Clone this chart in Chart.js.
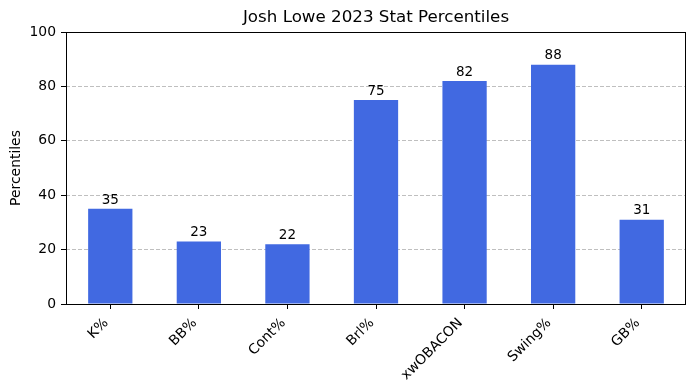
<!DOCTYPE html>
<html>
<head>
<meta charset="utf-8">
<script src="https://cdn.jsdelivr.net/npm/chart.js@4/dist/chart.umd.min.js"></script>
<style>
html,body{margin:0;padding:0;background:#fff;}
#wrap{width:695px;height:390px;position:relative;}
</style>
</head>
<body>
<div id="wrap"><canvas id="c" width="695" height="390"></canvas></div>
<script>
const categories = ["K%", "BB%", "Cont%", "Brl%", "xwOBACON", "Swing%", "GB%"];
const percentiles = [35, 23, 22, 75, 82, 88, 31];
const yTicks = [0, 20, 40, 60, 80, 100];

const FONT = "'DejaVu Sans', sans-serif";

const extras = {
  id: 'extras',
  afterDatasetsDraw(chart) {
    const ctx = chart.ctx;
    const meta = chart.getDatasetMeta(0);
    ctx.save();
    ctx.fillStyle = '#000';
    ctx.font = "13.5px " + FONT;
    ctx.textAlign = 'center';
    ctx.textBaseline = 'bottom';
    meta.data.forEach((bar, i) => {
      ctx.fillText(String(percentiles[i]), bar.x, bar.y - 2);
    });
    const a = chart.chartArea;
    ctx.strokeStyle = '#000';
    ctx.lineWidth = 1;
    ctx.strokeRect(Math.round(a.left) + 0.5, Math.round(a.top) + 0.5, Math.round(a.right - a.left) - 1, Math.round(a.bottom - a.top));
    ctx.font = "16.7px " + FONT;
    ctx.textBaseline = 'middle';
    ctx.fillText("Josh Lowe 2023 Stat Percentiles", (a.left + a.right) / 2, 18);
    ctx.restore();
  }
};

new Chart(document.getElementById('c'), {
  type: 'bar',
  data: {
    labels: categories,
    datasets: [{
      data: percentiles,
      backgroundColor: '#4169E1',
      borderWidth: 0,
      barPercentage: 0.5,
      categoryPercentage: 1.0
    }]
  },
  options: {
    responsive: false,
    animation: false,
    layout: { padding: { top: 32, right: 9, left: 0, bottom: 0 } },
    plugins: { legend: { display: false }, tooltip: { enabled: false }, title: { display: false } },
    scales: {
      x: {
        grid: { display: true, drawOnChartArea: false, color: '#000', tickColor: '#000', tickLength: 5, offset: false },
        border: { display: false },
        ticks: {
          color: '#000', font: { family: FONT, size: 13.9 },
          maxRotation: 45, minRotation: 45, padding: 6, labelOffset: -4
        },
        afterFit(s) { s.height = 86; }
      },
      y: {
        min: 0, max: 100,
        afterBuildTicks(s) { s.ticks = yTicks.map(v => ({ value: v })); },
        grid: {
          color: (c) => (c.tick && (c.tick.value === 0 || c.tick.value === 100)) ? 'rgba(0,0,0,0)' : 'rgba(170,170,170,0.75)',
          tickBorderDash: [],
          tickColor: '#000',
          tickLength: 5,
          lineWidth: 1
        },
        border: { display: false, dash: [4, 2] },
        ticks: { color: '#000', font: { family: FONT, size: 13.9 }, padding: 5 },
        title: { display: true, text: 'Percentiles', color: '#000', font: { family: FONT, size: 13.9 }, padding: { top: 8, bottom: 4 } },
        afterFit(s) { s.width = 66; }
      }
    }
  },
  plugins: [extras]
});
</script>
</body>
</html>
